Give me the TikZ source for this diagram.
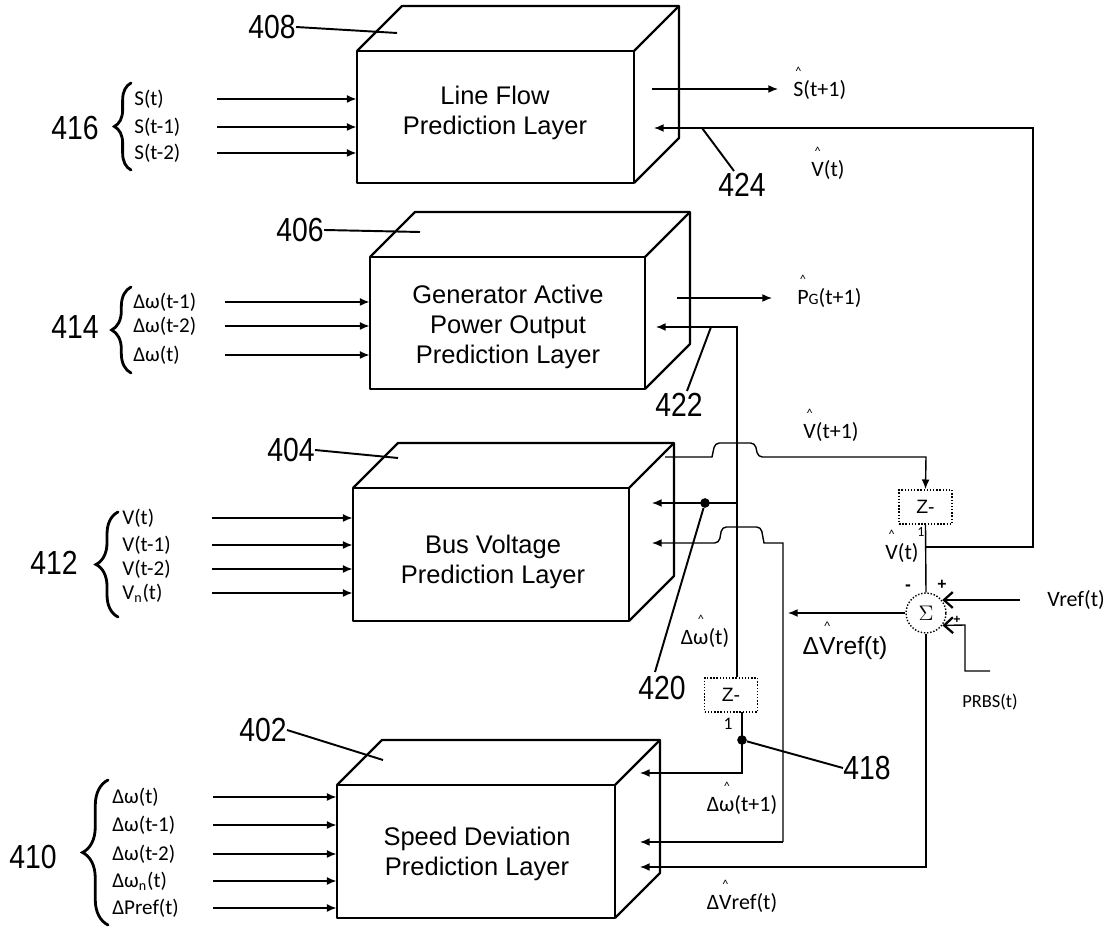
\documentclass[tikz,border=0pt]{standalone}
\usepackage{fontspec}
\setmainfont{Liberation Sans}
\newfontfamily\carl{Carlito}
\newfontfamily\narrowf{Liberation Sans}[FakeStretch=0.85]
\usetikzlibrary{arrows.meta,decorations.pathreplacing,fit,calc}

\newcommand{\hatx}[1]{\mbox{\ooalign{#1\cr\hidewidth\raisebox{0.95em}{\fontsize{7pt}{7pt}\selectfont\textasciicircum}\hidewidth\cr}}}

\newcommand{\blockcube}[5]{%
  \draw[boxline, fill=white] (#2,#3) rectangle (#4,#5);
  \draw[boxline] (#2,#3) -- ++(45,-45) -- ++({#4-#2},0) -- ++(0,{#5-#3}) -- (#4,#5);
  \draw[boxline] (#4,#3) -- ++(45,-45);
  \node[fit={(#2,#3)(#4,#5)}, inner sep=0pt] (#1) {};
}

\tikzset{
  boxline/.style={line width=1.3pt, line join=round},
  conn/.style={line width=0.8pt},
  arr/.style={conn, -{Latex[length=5.5pt,width=4.5pt]}},
  inarr/.style={line width=1pt, -{Latex[length=5.5pt,width=4.5pt]}},
  sigarr/.style={line width=0.8pt, -{Straight Barb[length=5pt,width=9pt,line width=1.3pt]}},
  blocktext/.style={font=\fontsize{14.5pt}{17pt}\selectfont, align=center, inner sep=0pt},
  refnum/.style={font=\narrowf\fontsize{19pt}{19pt}\selectfont, inner sep=0pt},
  leader/.style={line width=1.1pt},
  sig/.style={font=\carl\fontsize{12pt}{12pt}\selectfont, inner sep=0pt, anchor=west},
  lbl/.style={font=\carl\fontsize{12.5pt}{13pt}\selectfont, inner sep=0pt},
  bracestyle/.style={line width=1.6pt, line cap=round, decorate},
  jdot/.style={circle, fill=black, inner sep=0pt, minimum size=5.5pt},
  zbox/.style={draw, line width=0.8pt, densely dotted, minimum width=30pt, minimum height=19.5pt, inner sep=0pt, font=\fontsize{11pt}{11pt}\selectfont},
  sigma/.style={circle, draw, line width=0.8pt, densely dotted, minimum size=22.7pt, inner sep=0pt, font=\fontsize{13pt}{13pt}\selectfont},
}

\begin{document}
\begin{tikzpicture}[x=0.02cm,y=-0.02cm]
\useasboundingbox[fill=white] (0,0) rectangle (1110,928);

% ---------- blocks ----------
\blockcube{b408}{357}{51}{634}{183}
\blockcube{b406}{370}{257}{645}{389}
\blockcube{b404}{353}{488}{629}{621}
\blockcube{b402}{337}{785}{615}{918}

\node[blocktext] (t408) at (495,113) {Line Flow\\Prediction Layer};
\node[blocktext] (t406) at (508,327) {Generator Active\\Power Output\\Prediction Layer};
\node[blocktext] (t404) at (493,562) {Bus Voltage\\Prediction Layer};
\node[blocktext] (t402) at (477,854) {Speed Deviation\\Prediction Layer};

% ---------- reference numbers ----------
\node[refnum] (n408) at (272,27) {408};
\coordinate (e408) at (397,33);
\draw[leader] (n408.east) -- (e408);
\node[refnum] (n406) at (300,230) {406};
\coordinate (e406) at (420,232);
\draw[leader] (n406.east) -- (e406);
\node[refnum] (n404) at (291,450) {404};
\coordinate (e404) at (398,458);
\draw[leader] (n404.east) -- (e404);
\node[refnum] (n402) at (263,730) {402};
\coordinate (e402) at (383,760);
\draw[leader] (n402.east) -- (e402);

% ---------- left inputs 416 ----------
\node[refnum] (n416) at (75,128) {416};
\draw[bracestyle, decoration={brace, amplitude=9.5pt}] (131,170) -- (131,83);
\node[sig] (s1) at (134,99) {S(t)};
\node[sig] (s2) at (134,127) {S(t-1)};
\node[sig] (s3) at (134,153) {S(t-2)};
\foreach \yy in {99,127,153} {
  \coordinate (a) at (217,\yy);
  \draw[inarr] (a) -- (a -| b408.west);
}

% ---------- left inputs 414 ----------
\node[refnum] (n414) at (75,327) {414};
\draw[bracestyle, decoration={brace, amplitude=11pt}] (131,373) -- (131,287);
\node[sig] (g1) at (133,302) {Δω(t-1)};
\node[sig] (g2) at (133,326) {Δω(t-2)};
\node[sig] (g3) at (133,355) {Δω(t)};
\foreach \yy in {302,326,355} {
  \coordinate (a) at (225,\yy);
  \draw[inarr] (a) -- (a -| b406.west);
}

% ---------- left inputs 412 ----------
\node[refnum] (n412) at (54,563) {412};
\draw[bracestyle, decoration={brace, amplitude=12.5pt}] (118,617) -- (118,512);
\node[sig] (v1) at (122,518) {V(t)};
\node[sig] (v2) at (122,545) {V(t-1)};
\node[sig] (v3) at (122,569) {V(t-2)};
\node[sig] (v4) at (122,593) {V\textsubscript{n}(t)};
\foreach \yy in {518,545,569,593} {
  \coordinate (a) at (212,\yy);
  \draw[inarr] (a) -- (a -| b404.west);
}

% ---------- left inputs 410 ----------
\node[refnum] (n410) at (33,857) {410};
\draw[bracestyle, decoration={brace, amplitude=14.5pt}] (108,925) -- (108,780);
\node[sig] (d1) at (112,797) {Δω(t)};
\node[sig] (d2) at (112,825) {Δω(t-1)};
\node[sig] (d3) at (112,854) {Δω(t-2)};
\node[sig] (d4) at (112,881) {Δω\textsubscript{n}(t)};
\node[sig] (d5) at (112,908) {ΔPref(t)};
\foreach \yy in {797,825,854,881,908} {
  \coordinate (a) at (213,\yy);
  \draw[inarr] (a) -- (a -| b402.west);
}

% ---------- outputs ----------
\node[lbl, anchor=west] (lS) at (793,90) {\hatx{S}(t+1)};
\coordinate (o408) at (652,89);
\draw[arr] (o408) -- (778,89);

\node[lbl, anchor=west] (lP) at (797,298) {\hatx{P}{\fontsize{9pt}{9pt}\selectfont G}(t+1)};
\coordinate (o406) at (677,298);
\draw[arr] (o406) -- (772,298);

% ---------- summing junction and delays ----------
\node[zbox] (zr) at (925.5,507) {Z-};
\node[font=\carl\fontsize{8pt}{8pt}\selectfont] (zr1) at (921,532) {1};
\node[sigma] (S) at (926,613) {$\Sigma$};
\node[zbox] (zl) at (731,695) {Z-};
\node[font=\carl\fontsize{10pt}{10pt}\selectfont] (zl1) at (728,724) {1};

% V(t+1) from bus voltage block, with hop, into right delay
\coordinate (o404) at (665,457);
\draw[arr] (o404) -- (712,457) [rounded corners=2.5pt] -- (715,443) -- (755,443) -- (758,457) [sharp corners] -- (926,457) -- (zr.north);
\node[lbl] (lV1) at (831,432) {\hatx{V}(t+1)};

% delay output V(t) to sigma and back to line flow block
\draw[conn] (zr.south) -- (S.north);
\coordinate (j547) at (926,547);
\coordinate (r547) at (1033,547);
\coordinate (r128) at (1033,128);
\draw[arr] (j547) -- (r547) -- (r128) -- (654,128);
\node[lbl] (lVt) at (828,170) {\hatx{V}(t)};
\node[lbl] (lVs) at (902,553) {\hatx{V}(t)};

% Vref and PRBS into sigma
\coordinate (vs) at (1020,600);
\draw[sigarr] (vs) -- (vs -| S.38);
\node[lbl, anchor=west] (lvref) at (1047,600) {Vref(t)};
\coordinate (p0) at (990,671);
\coordinate (p1) at (965,671);
\coordinate (p2) at (965,625);
\draw[sigarr] (p0) -- (p1) -- (p2) -- (S.-37);
\node[font=\carl\fontsize{10.5pt}{11pt}\selectfont] (lprbs) at (990,702) {PRBS(t)};
\node[font=\fontsize{10pt}{10pt}\selectfont\bfseries] (mneg) at (908,588) {-};
\node[font=\fontsize{9pt}{9pt}\selectfont\bfseries] (mpos1) at (942,585) {+};
\node[font=\fontsize{7pt}{7pt}\selectfont\bfseries] (mpos2) at (957,620) {+};

% Delta Vref from sigma
\coordinate (c783a) at (783,543);
\coordinate (c783b) at (783,842);
\draw[arr] (S.west) -- (S.west -| 788,0);
\node[font=\fontsize{14pt}{14pt}\selectfont] (lDV) at (845,648) {Δ\hatx{V}ref(t)};
\draw[arr] (c783b) -- (c783a) -- (764,543) [rounded corners=2.5pt] -- (761,527) -- (722,527) -- (719,543) [sharp corners] -- (652,543);
\draw[arr] (c783b) -- (640,842);
\coordinate (c926) at (926,867);
\draw[arr] (S.south) -- (c926) -- (640,867);
\node[lbl] (lDV2) at (742,903) {Δ\hatx{V}ref(t)};

% Z^-1 (lower) loop
\coordinate (g327) at (737,327);
\draw[arr] (g327 |- zl.north) -- (g327) -- (656,327);
\coordinate (g503) at (737,503);
\draw[arr] (g503) -- (652,503);
\node[jdot] (dot420) at (705,503) {};
\node[lbl] (lDw) at (705,638) {Δ\hatx{ω}(t)};

\coordinate (zlb) at (742,712);
\coordinate (c773) at (742,773);
\draw[arr] (zlb) -- (c773) -- (640,773);
\node[jdot] (dot418) at (742,740) {};
\node[lbl] (lDw1) at (742,805) {Δ\hatx{ω}(t+1)};

% ---------- callout numbers on the right ----------
\node[refnum] (n424) at (742,185) {424};
\coordinate (e424) at (702,128);
\draw[leader] (n424.north) ++(-8,-2) -- (e424);
\node[refnum] (n422) at (679,405) {422};
\coordinate (e422) at (711,327);
\draw[leader] (n422.north) ++(8,-2) -- (e422);
\node[refnum] (n420) at (662,688) {420};
\draw[leader] (dot420) -- (655,672);
\node[refnum] (n418) at (867,768) {418};
\draw[leader] (dot418) -- (n418.west);

\end{tikzpicture}
\end{document}
